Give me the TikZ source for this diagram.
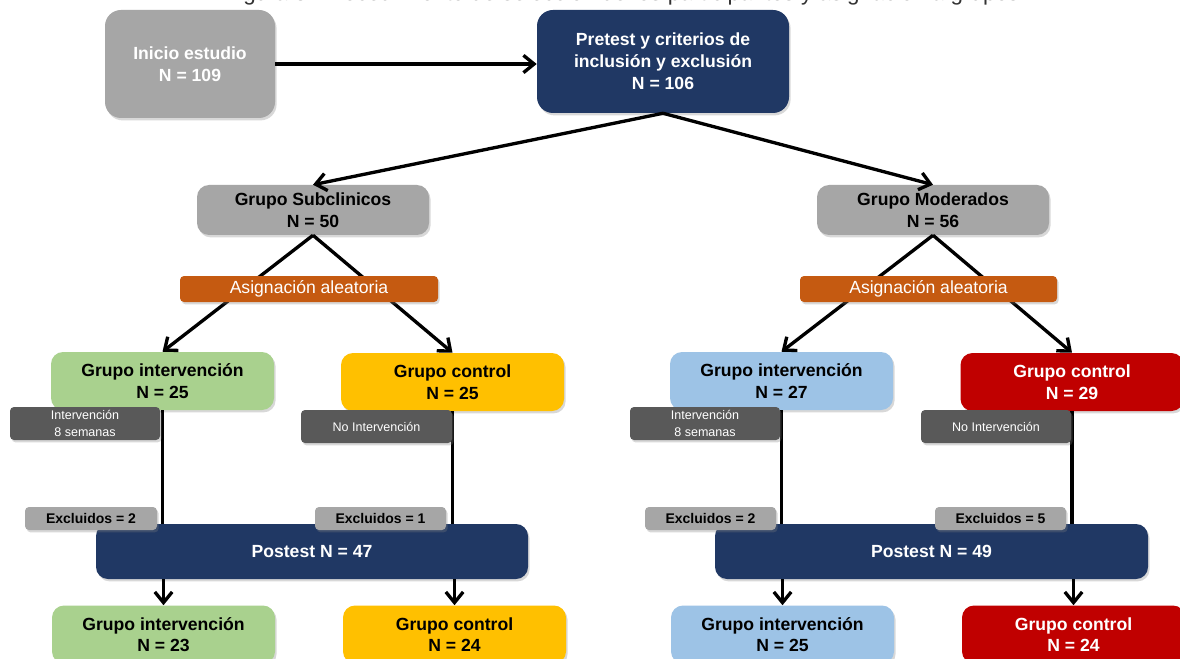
\documentclass[tikz,border=0pt]{standalone}
\usepackage{fontspec}
\usepackage{graphicx}
\setmainfont{Liberation Sans}
\usetikzlibrary{arrows.meta,shadows}
\definecolor{boxgray}{HTML}{A6A6A6}
\definecolor{navy}{HTML}{203864}
\definecolor{orng}{HTML}{C55A11}
\definecolor{grn}{HTML}{A9D18E}
\definecolor{yel}{HTML}{FFC000}
\definecolor{lblue}{HTML}{9DC3E6}
\definecolor{dred}{HTML}{C00000}
\definecolor{dgray}{HTML}{595959}
\begin{document}
\begin{tikzpicture}[x=0.75pt,y=-0.75pt,
  sz/.style 2 args={minimum width={#1*0.75pt},minimum height={#2*0.75pt}},
  basebox/.style={inner sep=0pt, align=center,
    drop shadow={shadow xshift=1.2pt,shadow yshift=-1.8pt,opacity=0.3}},
  bigbox/.style={basebox, rounded corners=9pt, font=\fontsize{13.2}{16.2}\selectfont\bfseries},
  topbox/.style={bigbox, rounded corners=12pt, text=white, font=\fontsize{13.2}{16.5}\selectfont\bfseries},
  asigbox/.style={basebox, fill=orng, rounded corners=3pt, text=white, font=\fontsize{13.2}{15}\selectfont},
  labbox/.style={basebox, fill=dgray, rounded corners=3pt, text=white, font=\fontsize{9.4}{12.5}\selectfont},
  exbox/.style={basebox, fill=boxgray, rounded corners=3pt, text=black, font=\fontsize{10.5}{12}\selectfont\bfseries},
  postbox/.style={bigbox, fill=navy, text=white},
  conn/.style={line width=2.5pt, -{Straight Barb[length=8pt,width=13pt]}},
  plain/.style={line width=2.3pt}
]
\useasboundingbox (0,0) rectangle (1180,659);
\clip (0,0) rectangle (1180,659);
\fill[white] (0,0) rectangle (1180,659);

% partially visible title
\node[anchor=base, inner sep=0pt, text=black!80] (title) at (622,1)
  {\resizebox{596pt}{!}{Figura 3. Procedimiento de selección de los participantes y asignación a grupos}};

% main boxes
\node[topbox, fill=boxgray, sz={170}{108}] (inicio) at (190,64) {Inicio estudio\\N = 109};
\node[topbox, fill=navy, sz={252}{103}] (pre) at (663,61.5) {Pretest y criterios de\\inclusión y exclusión\\N = 106};

\node[bigbox, fill=boxgray, sz={232}{50}] (sub) at (313,210) {Grupo Subclinicos\\N = 50};
\node[bigbox, fill=boxgray, sz={232}{50}] (mod) at (933,210) {Grupo Moderados\\N = 56};

\node[bigbox, fill=grn, sz={223}{58}] (gi1) at (162.5,381) {Grupo intervención\\N = 25};
\node[bigbox, fill=yel, sz={223}{58}] (gc1) at (452.5,382) {Grupo control\\N = 25};
\node[bigbox, fill=lblue, sz={223}{58}] (gi2) at (781.5,381) {Grupo intervención\\N = 27};
\node[bigbox, fill=dred, text=white, sz={223}{58}] (gc2) at (1072,382) {Grupo control\\N = 29};

\node[postbox, sz={432}{55}] (post1) at (312,551.5) {Postest N = 47};
\node[postbox, sz={433}{55}] (post2) at (931.5,551.5) {Postest N = 49};

\node[bigbox, fill=grn, sz={223}{58}] (fi1) at (163.5,634.5) {Grupo intervención\\N = 23};
\node[bigbox, fill=yel, sz={223}{58}] (fc1) at (454.5,634.5) {Grupo control\\N = 24};
\node[bigbox, fill=lblue, sz={223}{58}] (fi2) at (782.5,634.5) {Grupo intervención\\N = 25};
\node[bigbox, fill=dred, text=white, sz={223}{58}] (fc2) at (1073.5,634.5) {Grupo control\\N = 24};

% connectors
\draw[conn] (inicio.east) -- (inicio.east -| pre.west);
\draw[conn] (pre.south) -- (sub.north);
\draw[conn] (pre.south) -- (mod.north);
\draw[conn] (sub.south) -- (gi1.north);
\draw[conn] (sub.south) -- (gc1.north);
\draw[conn] (mod.south) -- (gi2.north);
\draw[conn] (mod.south) -- (gc2.north);

\draw[plain] (gi1.south) -- (gi1.south |- post1.north);
\draw[plain] (gc1.south) -- (gc1.south |- post1.north);
\draw[plain] (gi2.south) -- (gi2.south |- post2.north);
\draw[plain] (gc2.south) -- (gc2.south |- post2.north);

\draw[conn] (fi1.north |- post1.south) -- (fi1.north);
\draw[conn] (fc1.north |- post1.south) -- (fc1.north);
\draw[conn] (fi2.north |- post2.south) -- (fi2.north);
\draw[conn] (fc2.north |- post2.south) -- (fc2.north);

% overlay boxes
\node[asigbox, sz={258}{26}] (asig1) at (309,289) {Asignación aleatoria};
\node[asigbox, sz={257}{26}] (asig2) at (928.5,289) {Asignación aleatoria};

\node[labbox, sz={150}{33}] (lab1) at (85,423.5) {Intervención\\8 semanas};
\node[labbox, sz={151}{33}] (lab2) at (376.5,426.5) {No Intervención};
\node[labbox, sz={150}{33}] (lab3) at (705,423.5) {Intervención\\8 semanas};
\node[labbox, sz={150}{33}] (lab4) at (996,426.5) {No Intervención};

\node[exbox, sz={132}{23}] (ex1) at (91,518.5) {Excluidos = 2};
\node[exbox, sz={131}{23}] (ex2) at (380.5,518.5) {Excluidos = 1};
\node[exbox, sz={131}{23}] (ex3) at (710.5,518.5) {Excluidos = 2};
\node[exbox, sz={131}{23}] (ex4) at (1000.5,518.5) {Excluidos = 5};
\end{tikzpicture}
\end{document}
